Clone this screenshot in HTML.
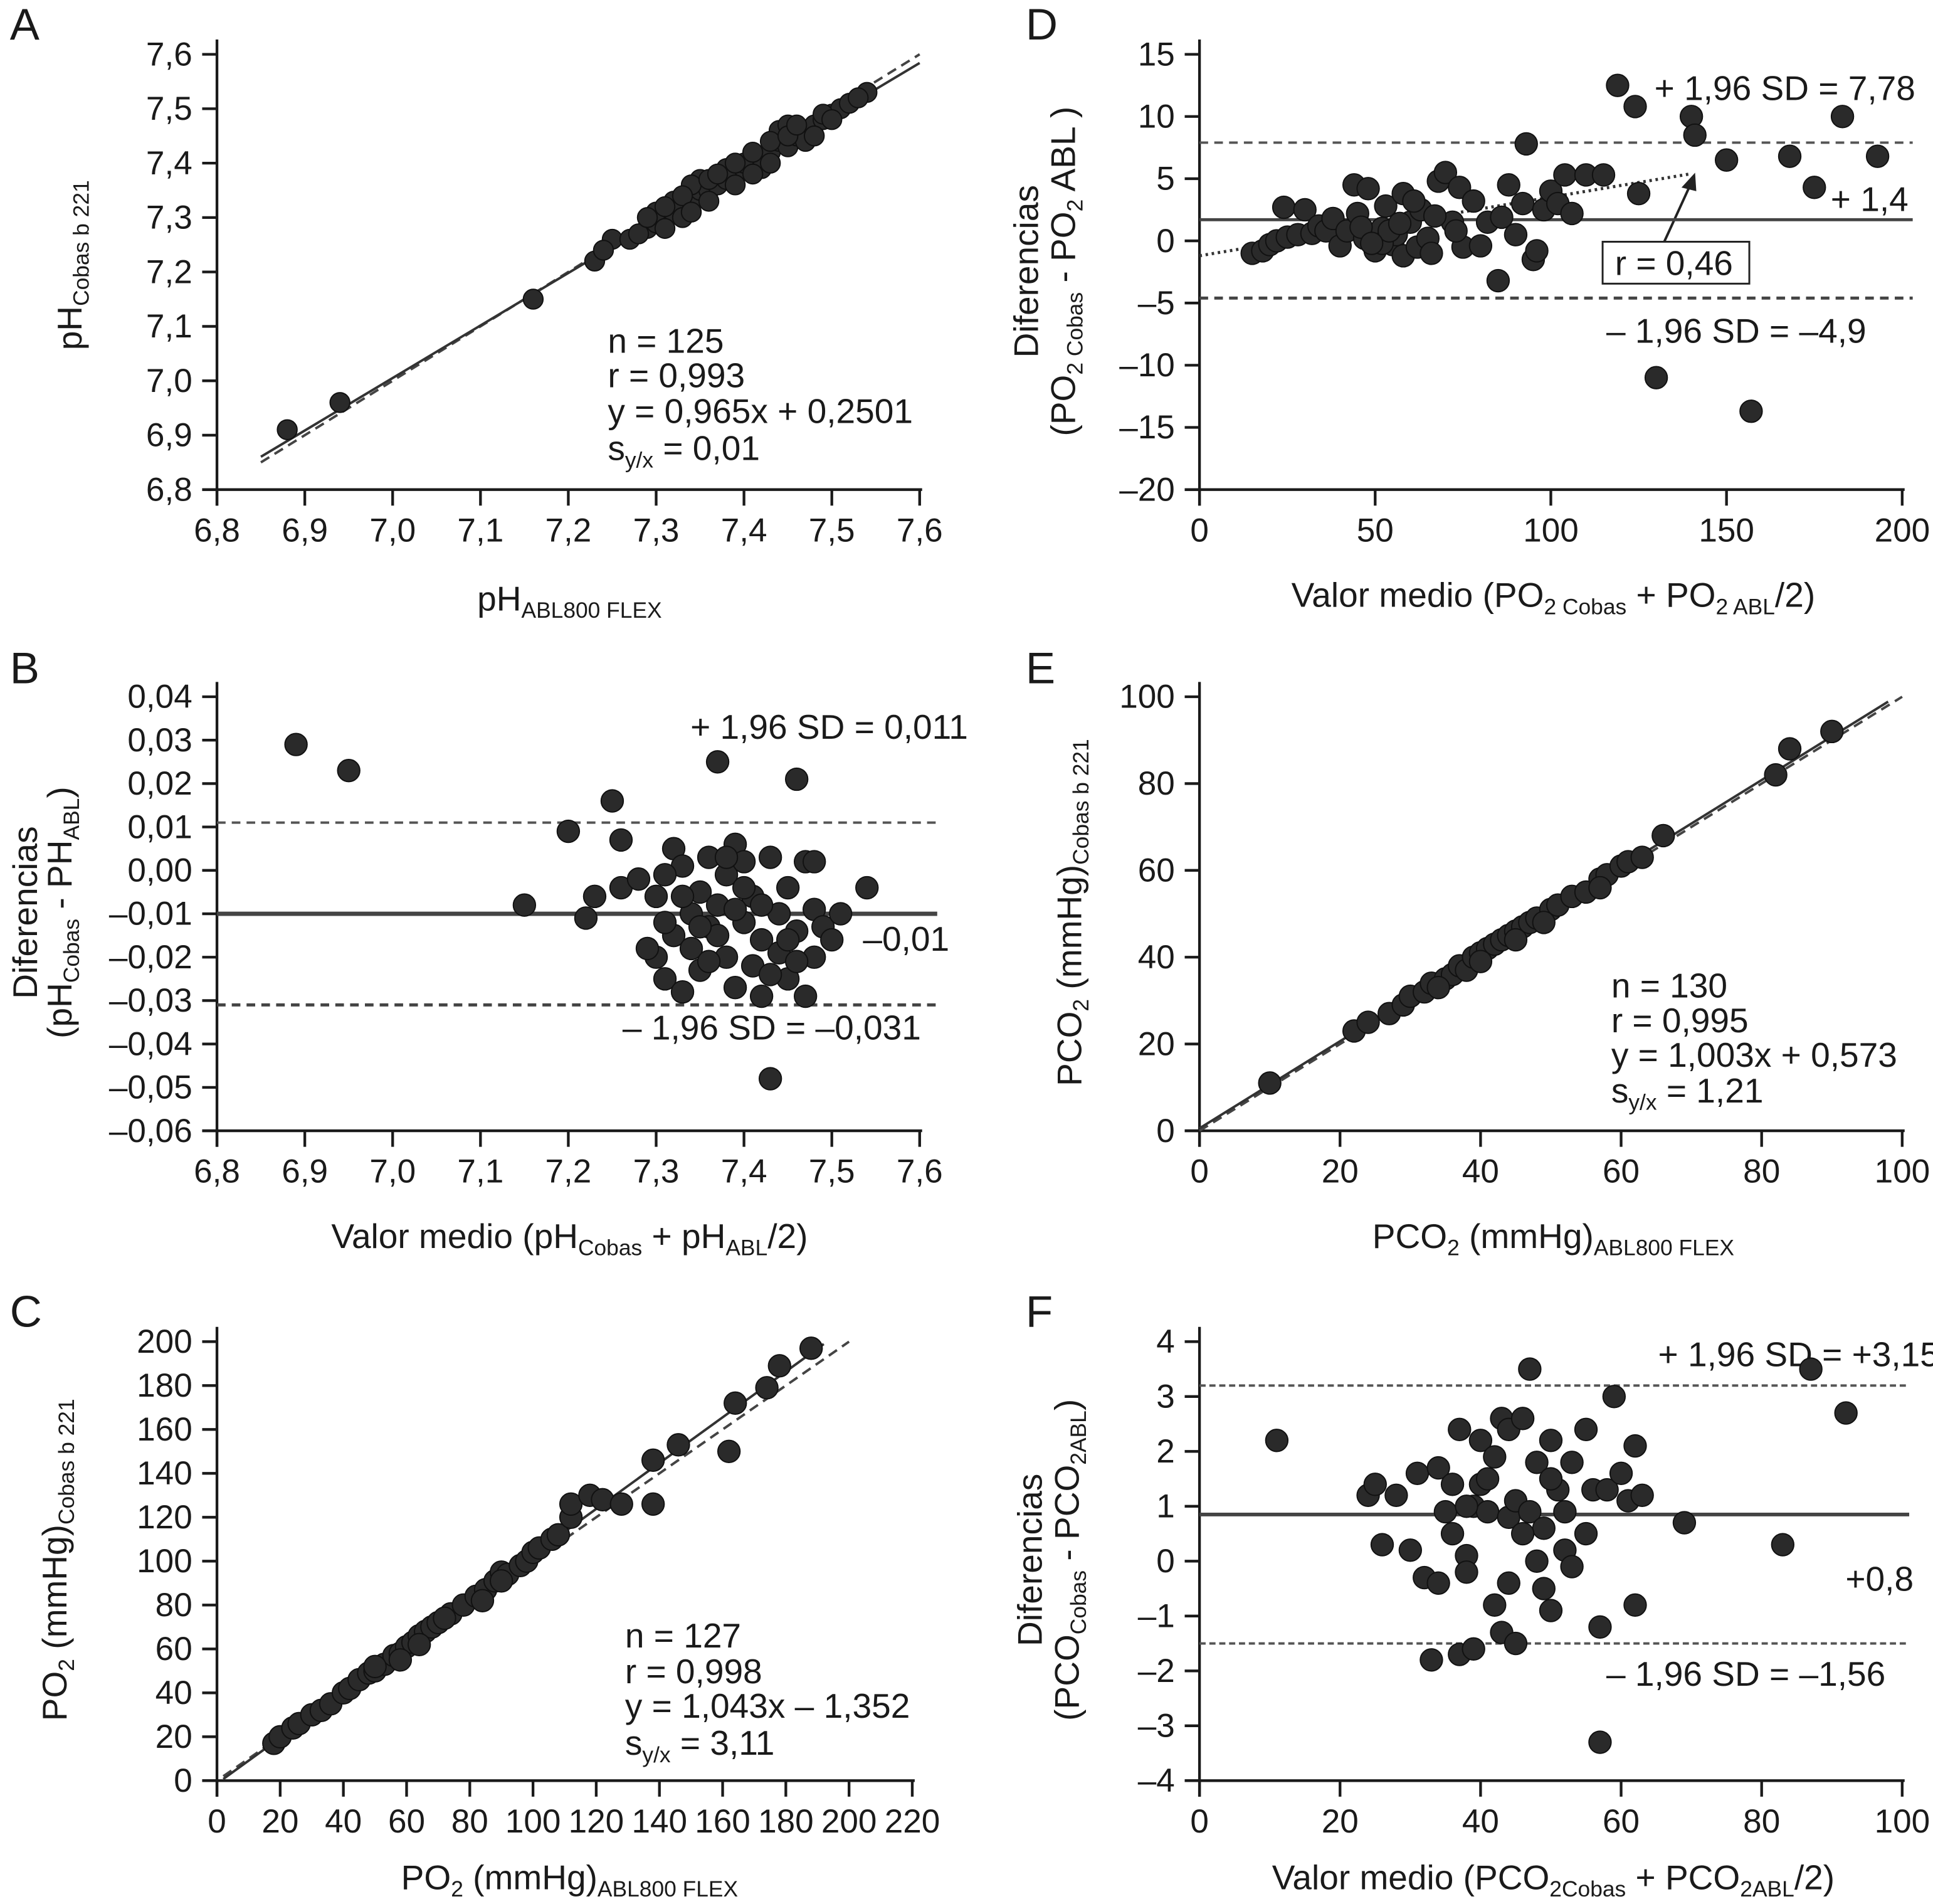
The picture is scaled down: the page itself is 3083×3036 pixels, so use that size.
<!DOCTYPE html>
<html><head><meta charset="utf-8"><style>
html,body{margin:0;padding:0;background:#fff}
svg{display:block}
text{font-family:"Liberation Sans",sans-serif;fill:#1a1a1a}
</style></head><body>
<svg id="fig" width="3083" height="3036" viewBox="0 0 1568 1544" xmlns="http://www.w3.org/2000/svg">
<g font-size="36">
<text x="8" y="32">A</text>
<text x="8" y="554">B</text>
<text x="8" y="1076">C</text>
<text x="832" y="32">D</text>
<text x="832" y="554">E</text>
<text x="832" y="1076">F</text>
</g>
<g font-size="28">
<text x="493" y="286">n = 125</text>
<text x="493" y="314">r = 0,993</text>
<text x="493" y="343">y = 0,965x + 0,2501</text>
<text x="493" y="373">s<tspan font-size="18" dy="6">y/x</tspan><tspan dy="-6"> = 0,01</tspan></text>
<text x="462" y="495" text-anchor="middle">pH<tspan font-size="18" dy="6">ABL800 FLEX</tspan></text>
<text transform="translate(66,215) rotate(-90)" text-anchor="middle">pH<tspan font-size="18" dy="6">Cobas b 221</tspan></text>
<text x="560" y="599">+ 1,96 SD = 0,011</text>
<text x="700" y="771">–0,01</text>
<text x="505" y="843">– 1,96 SD = –0,031</text>
<text x="462" y="1012" text-anchor="middle">Valor medio (pH<tspan font-size="18" dy="6">Cobas</tspan><tspan dy="-6"> + pH</tspan><tspan font-size="18" dy="6">ABL</tspan><tspan dy="-6">/2)</tspan></text>
<text transform="translate(30,740) rotate(-90)" text-anchor="middle">Diferencias</text>
<text transform="translate(58,740) rotate(-90)" text-anchor="middle">(pH<tspan font-size="18" dy="6">Cobas</tspan><tspan dy="-6"> - PH</tspan><tspan font-size="18" dy="6">ABL</tspan><tspan dy="-6">)</tspan></text>
<text x="507" y="1336">n = 127</text>
<text x="507" y="1365">r = 0,998</text>
<text x="507" y="1393">y = 1,043x – 1,352</text>
<text x="507" y="1423">s<tspan font-size="18" dy="6">y/x</tspan><tspan dy="-6"> = 3,11</tspan></text>
<text x="462" y="1532" text-anchor="middle">PO<tspan font-size="18" dy="6">2</tspan><tspan dy="-6"> (mmHg)</tspan><tspan font-size="18" dy="6">ABL800 FLEX</tspan></text>
<text transform="translate(54,1265) rotate(-90)" text-anchor="middle">PO<tspan font-size="18" dy="6">2</tspan><tspan dy="-6"> (mmHg)</tspan><tspan font-size="18" dy="6">Cobas b 221</tspan></text>
<text x="1342" y="81">+ 1,96 SD = 7,78</text>
<text x="1485" y="171">+ 1,4</text>
<text x="1303" y="278">– 1,96 SD = –4,9</text>
<rect x="1300" y="196" width="119" height="34" fill="#fff" stroke="#222" stroke-width="1.5"/>
<text x="1310" y="223">r = 0,46</text>
<line x1="1350" y1="196" x2="1372" y2="148" stroke="#222" stroke-width="2"/>
<polygon points="1375,140 1364,152 1376,155" fill="#222"/>
<text x="1260" y="492" text-anchor="middle">Valor medio (PO<tspan font-size="18" dy="6">2 Cobas</tspan><tspan dy="-6"> + PO</tspan><tspan font-size="18" dy="6">2 ABL</tspan><tspan dy="-6">/2)</tspan></text>
<text transform="translate(842,220) rotate(-90)" text-anchor="middle">Diferencias</text>
<text transform="translate(872,220) rotate(-90)" text-anchor="middle">(PO<tspan font-size="18" dy="6">2 Cobas</tspan><tspan dy="-6"> - PO</tspan><tspan font-size="18" dy="6">2</tspan><tspan dy="-6"> ABL )</tspan></text>
<text x="1307" y="809">n = 130</text>
<text x="1307" y="837">r = 0,995</text>
<text x="1307" y="865">y = 1,003x + 0,573</text>
<text x="1307" y="894">s<tspan font-size="18" dy="6">y/x</tspan><tspan dy="-6"> = 1,21</tspan></text>
<text x="1260" y="1012" text-anchor="middle">PCO<tspan font-size="18" dy="6">2</tspan><tspan dy="-6"> (mmHg)</tspan><tspan font-size="18" dy="6">ABL800 FLEX</tspan></text>
<text transform="translate(877,740) rotate(-90)" text-anchor="middle">PCO<tspan font-size="18" dy="6">2</tspan><tspan dy="-6"> (mmHg)</tspan><tspan font-size="18" dy="6">Cobas b 221</tspan></text>
<text x="1345" y="1108">+ 1,96 SD = +3,15</text>
<text x="1497" y="1290">+0,8</text>
<text x="1303" y="1367">– 1,96 SD = –1,56</text>
<text x="1260" y="1532" text-anchor="middle">Valor medio (PCO<tspan font-size="18" dy="6">2Cobas</tspan><tspan dy="-6"> + PCO</tspan><tspan font-size="18" dy="6">2ABL</tspan><tspan dy="-6">/2)</tspan></text>
<text transform="translate(845,1265) rotate(-90)" text-anchor="middle">Diferencias</text>
<text transform="translate(875,1265) rotate(-90)" text-anchor="middle">(PCO<tspan font-size="18" dy="6">Cobas</tspan><tspan dy="-6"> - PCO</tspan><tspan font-size="18" dy="6">2ABL</tspan><tspan dy="-6">)</tspan></text>
</g>
</svg>
<script>
const NS="http://www.w3.org/2000/svg";
const svg=document.getElementById('fig');

const aPoints=[[6.88,6.91],[6.94,6.96],[7.16,7.15],[7.23,7.22],[7.25,7.26],[7.27,7.26],[7.24,7.24],[7.29,7.28],[7.30,7.29],[7.31,7.30],[7.32,7.31],[7.32,7.33],[7.33,7.32],[7.34,7.33],[7.35,7.35],[7.35,7.37],[7.36,7.35],[7.37,7.36],[7.38,7.37],[7.38,7.39],[7.39,7.38],[7.40,7.39],[7.40,7.40],[7.41,7.40],[7.42,7.41],[7.43,7.42],[7.44,7.44],[7.44,7.46],[7.45,7.43],[7.46,7.45],[7.47,7.46],[7.48,7.47],[7.49,7.48],[7.50,7.49],[7.51,7.50],[7.54,7.53],[7.30,7.31],[7.33,7.30],[7.36,7.33],[7.31,7.28],[7.42,7.39],[7.45,7.47],[7.47,7.44],[7.39,7.36],[7.34,7.36],[7.28,7.27],[7.29,7.30],[7.31,7.32],[7.33,7.34],[7.34,7.31],[7.36,7.37],[7.37,7.38],[7.39,7.40],[7.41,7.38],[7.41,7.42],[7.43,7.40],[7.43,7.44],[7.45,7.45],[7.46,7.47],[7.48,7.45],[7.49,7.49],[7.50,7.48],[7.52,7.51],[7.53,7.52]];
const bPoints=[[6.89,0.029],[6.95,0.023],[7.15,-0.008],[7.20,0.009],[7.22,-0.011],[7.23,-0.006],[7.25,0.016],[7.26,0.007],[7.26,-0.004],[7.28,-0.002],[7.30,-0.006],[7.30,-0.020],[7.31,-0.025],[7.32,0.005],[7.32,-0.015],[7.33,-0.028],[7.33,0.001],[7.34,-0.010],[7.34,-0.018],[7.35,-0.005],[7.35,-0.023],[7.36,0.003],[7.36,-0.013],[7.37,0.025],[7.37,-0.008],[7.38,-0.020],[7.38,-0.001],[7.39,0.006],[7.39,-0.027],[7.40,-0.012],[7.40,0.002],[7.41,-0.022],[7.41,-0.006],[7.42,-0.016],[7.42,-0.029],[7.43,-0.048],[7.43,0.003],[7.44,-0.010],[7.44,-0.019],[7.45,-0.004],[7.45,-0.025],[7.46,0.021],[7.46,-0.014],[7.47,-0.029],[7.47,0.002],[7.48,-0.009],[7.48,-0.020],[7.49,-0.013],[7.50,-0.016],[7.51,-0.010],[7.54,-0.004],[7.31,-0.012],[7.29,-0.018],[7.36,-0.021],[7.40,-0.004],[7.42,-0.008],[7.37,-0.015],[7.33,-0.006],[7.45,-0.016],[7.39,-0.009],[7.31,-0.001],[7.35,-0.013],[7.43,-0.024],[7.46,-0.021],[7.38,0.003],[7.48,0.002]];
const cPoints=[[18,17],[20,20],[24,24],[26,26],[30,30],[33,32],[36,35],[40,40],[42,42],[45,46],[48,49],[50,50],[53,53],[56,57],[58,58],[60,61],[62,63],[64,66],[66,68],[68,70],[70,72],[74,76],[78,80],[82,84],[85,87],[88,91],[90,95],[92,94],[96,98],[98,100],[100,104],[102,106],[106,110],[108,112],[112,120],[112,126],[118,130],[122,128],[128,126],[138,146],[138,126],[146,153],[162,150],[164,172],[174,179],[178,189],[188,197],[50,52],[58,55],[64,62],[72,74],[84,82],[90,91]];
const dPoints=[[15,-1],[18,-0.8],[20,-0.3],[22,0],[24,2.7],[25,0.3],[28,0.5],[30,2.5],[32,0.6],[34,1.2],[36,0.8],[38,1.8],[40,-0.4],[42,0.8],[44,4.5],[45,2.2],[47,0.2],[48,4.2],[50,-0.8],[52,1.0],[53,2.8],[55,-0.3],[56,0.5],[58,3.8],[58,-1.2],[60,1.5],[62,-0.5],[63,2.5],[65,0.2],[66,-1.0],[68,4.8],[70,5.5],[72,1.5],[74,4.3],[75,-0.5],[78,3.2],[80,-0.4],[82,1.5],[85,-3.2],[86,1.9],[88,4.5],[90,0.5],[92,3.0],[93,7.8],[95,-1.5],[96,-0.8],[98,2.5],[100,4.0],[102,3.0],[104,5.3],[106,2.2],[110,5.3],[115,5.3],[119,12.5],[124,10.8],[125,3.8],[130,-11],[140,10],[141,8.5],[150,6.5],[157,-13.7],[168,6.8],[175,4.3],[183,10],[193,6.8],[52,-0.2],[54,0.8],[57,1.4],[46,1.1],[61,3.2],[67,2.0],[73,0.8],[49,-0.2]];
const ePoints=[[10,11],[22,23],[24,25],[27,27],[29,29],[30,31],[32,32],[33,34],[35,35],[36,36],[37,38],[38,37],[39,40],[40,41],[41,42],[42,43],[43,44],[44,45],[45,46],[46,47],[47,48],[48,49],[50,51],[51,52],[53,54],[55,55],[57,58],[58,59],[60,61],[61,62],[63,63],[66,68],[82,82],[84,88],[90,92],[34,33],[40,39],[45,44],[49,48],[57,56]];
const fPoints=[[11,2.2],[24,1.2],[25,1.4],[26,0.3],[28,1.2],[30,0.2],[31,1.6],[32,-0.3],[33,-1.8],[34,1.7],[34,-0.4],[35,0.9],[36,1.4],[37,2.4],[37,-1.7],[38,0.1],[38,-0.2],[39,1.0],[39,-1.6],[40,2.2],[40,1.4],[41,0.9],[42,-0.8],[42,1.9],[43,-1.3],[43,2.6],[44,0.8],[44,2.4],[45,-1.5],[45,1.1],[46,2.6],[47,0.9],[47,3.5],[48,1.8],[49,-0.5],[49,0.6],[50,-0.9],[50,2.2],[51,1.3],[52,0.2],[53,-0.1],[53,1.8],[55,2.4],[55,0.5],[56,1.3],[57,-1.2],[57,-3.3],[58,1.3],[59,3.0],[60,1.6],[61,1.1],[62,-0.8],[62,2.1],[63,1.2],[69,0.7],[83,0.3],[87,3.5],[92,2.7],[38,1.0],[41,1.5],[46,0.5],[48,0.0],[52,0.9],[44,-0.4],[36,0.5],[50,1.5]];

const aXTicks=[6.8,6.9,7.0,7.1,7.2,7.3,7.4,7.5,7.6];
const aYTicks=[6.8,6.9,7.0,7.1,7.2,7.3,7.4,7.5,7.6];
const bXTicks=[6.8,6.9,7.0,7.1,7.2,7.3,7.4,7.5,7.6];
const bYTicks=[-0.06,-0.05,-0.04,-0.03,-0.02,-0.01,0,0.01,0.02,0.03,0.04];
const cXTicks=[0,20,40,60,80,100,120,140,160,180,200,220];
const cYTicks=[0,20,40,60,80,100,120,140,160,180,200];
const dXTicks=[0,50,100,150,200];
const dYTicks=[-20,-15,-10,-5,0,5,10,15];
const eXTicks=[0,20,40,60,80,100];
const eYTicks=[0,20,40,60,80,100];
const fXTicks=[0,20,40,60,80,100];
const fYTicks=[-4,-3,-2,-1,0,1,2,3,4];

const bLimits=[0.011,-0.010,-0.031];
const dLimits=[7.9,1.7,-4.6];
const fLimits=[3.2,0.85,-1.5];

function el(tag,attrs){const e=document.createElementNS(NS,tag);for(const k in attrs)e.setAttribute(k,attrs[k]);svg.appendChild(e);return e;}
function fmt(v,dec,dash){let s=Math.abs(v).toFixed(dec).replace('.',',');return v<0?(dash?'–':'-')+s:s;}

function panel(id,cfg){
  const sx=v=>cfg.px0+(v-cfg.xmin)/(cfg.xmax-cfg.xmin)*(cfg.px1-cfg.px0);
  const sy=v=>cfg.py0-(v-cfg.ymin)/(cfg.ymax-cfg.ymin)*(cfg.py0-cfg.py1);
  let ax=el('line',{x1:cfg.px0-12,y1:cfg.py0,x2:cfg.px1+2,y2:cfg.py0,stroke:'#1a1a1a','stroke-width':2.2});
  
  
  let ay=el('line',{x1:cfg.px0,y1:cfg.py0+13,x2:cfg.px0,y2:cfg.py1-12,stroke:'#1a1a1a','stroke-width':2.2});
  
  
  cfg.xt.forEach(v=>{
    const x=sx(v);
    const t=el('line',{x1:x,y1:cfg.py0,x2:x,y2:cfg.py0+13,stroke:'#1a1a1a','stroke-width':2.2});
    
    
    const l=el('text',{x:x,y:cfg.py0+42,'text-anchor':'middle','font-size':27});
    l.textContent=fmt(v,cfg.xd,false);
    
    
  });
  cfg.yt.forEach(v=>{
    const y=sy(v);
    const t=el('line',{x1:cfg.px0-12,y1:y,x2:cfg.px0,y2:y,stroke:'#1a1a1a','stroke-width':2.2});
    
    
    const l=el('text',{x:cfg.px0-20,y:y+9,'text-anchor':'end','font-size':27});
    l.textContent=fmt(v,cfg.yd,true);
    
    
  });
  (cfg.lines||[]).forEach(L=>{
    const ln=el('line',{x1:sx(L[0]),y1:sy(L[1]),x2:sx(L[2]),y2:sy(L[3]),stroke:L[5]||'#333','stroke-width':L[6]||2,'stroke-dasharray':L[4]||'none'});
    
    
  });
  cfg.pts.forEach(p=>{
    const c=el('circle',{cx:sx(p[0]),cy:sy(p[1]),r:cfg.r||9,fill:'#2a2a2a',stroke:'#111','stroke-width':1});
    
    
  });
}

panel('a',{px0:176,px1:746,py0:397,py1:44,xmin:6.8,xmax:7.6,ymin:6.8,ymax:7.6,xt:aXTicks,yt:aYTicks,xd:1,yd:1,pts:aPoints,r:8,
 lines:[[6.85,6.85,7.6,7.6,'8,5','#444',2,'identity-line'],[6.85,0.965*6.85+0.2501,7.6,0.965*7.6+0.2501,null,'#333',2,'regression-line']]});
panel('b',{px0:176,px1:746,py0:917,py1:565,xmin:6.8,xmax:7.6,ymin:-0.06,ymax:0.04,xt:bXTicks,yt:bYTicks,xd:1,yd:2,pts:bPoints,
 lines:[[6.8,bLimits[0],7.62,bLimits[0],'7,5','#555',2,'upper-loa-line'],[6.8,bLimits[1],7.62,bLimits[1],null,'#444',3.5,'mean-line'],[6.8,bLimits[2],7.62,bLimits[2],'7,5','#444',2.5,'lower-loa-line']]});
panel('c',{px0:176,px1:740,py0:1444,py1:1088,xmin:0,xmax:220,ymin:0,ymax:200,xt:cXTicks,yt:cYTicks,xd:0,yd:0,pts:cPoints,
 lines:[[2,2,200,200,'8,5','#444',2,'identity-line'],[2,1.043*2-1.352,192,1.043*192-1.352,null,'#333',2,'regression-line']]});
panel('d',{px0:973,px1:1543,py0:397,py1:44,xmin:0,xmax:200,ymin:-20,ymax:15,xt:dXTicks,yt:dYTicks,xd:0,yd:0,pts:dPoints,
 lines:[[0,dLimits[0],203,dLimits[0],'7,5','#555',2,'upper-loa-line'],[0,dLimits[1],203,dLimits[1],null,'#444',2.5,'mean-line'],[0,dLimits[2],203,dLimits[2],'7,5','#444',2.5,'lower-loa-line'],[0,-1.2,140,5.4,'2,3','#333',2.5,'trend-line']]});
panel('e',{px0:973,px1:1543,py0:917,py1:565,xmin:0,xmax:100,ymin:0,ymax:100,xt:eXTicks,yt:eYTicks,xd:0,yd:0,pts:ePoints,
 lines:[[0,0,100,100,'8,5','#444',2,'identity-line'],[0,0.573,98,1.003*98+0.573,null,'#333',2,'regression-line']]});
panel('f',{px0:973,px1:1543,py0:1444,py1:1088,xmin:0,xmax:100,ymin:-4,ymax:4,xt:fXTicks,yt:fYTicks,xd:0,yd:0,pts:fPoints,
 lines:[[0,fLimits[0],101,fLimits[0],'5,3','#555',2,'upper-loa-line'],[0,fLimits[1],101,fLimits[1],null,'#444',3,'mean-line'],[0,fLimits[2],101,fLimits[2],'5,3','#555',2,'lower-loa-line']]});
</script>
</body></html>
